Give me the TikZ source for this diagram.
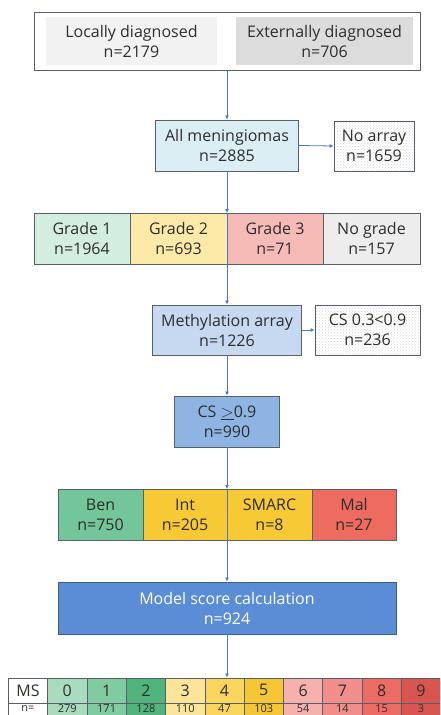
\documentclass[tikz,border=0pt]{standalone}
\usepackage{fontspec}
\setmainfont{Open Sans}
\usetikzlibrary{arrows.meta,patterns}
\definecolor{bordc}{HTML}{56606B}
\definecolor{txtc}{HTML}{2E2E2E}
\definecolor{arrc}{HTML}{4A78C2}
\definecolor{locf}{HTML}{F2F2F2}
\definecolor{extf}{HTML}{DCDCDC}
\definecolor{allf}{HTML}{DAEEF3}
\definecolor{gaf}{HTML}{D3EEDF}
\definecolor{gbf}{HTML}{FDEAA8}
\definecolor{gcf}{HTML}{F6BBB6}
\definecolor{gdf}{HTML}{EDEDED}
\definecolor{methf}{HTML}{C6D9F1}
\definecolor{csf}{HTML}{8DB4E2}
\definecolor{benf}{HTML}{72C69A}
\definecolor{intf}{HTML}{F6C935}
\definecolor{malf}{HTML}{EE6B5F}
\definecolor{modf}{HTML}{5A8DD6}
\definecolor{modb}{HTML}{3E5F8E}
\definecolor{m0}{HTML}{A9DCBF}
\definecolor{m1}{HTML}{80CCA0}
\definecolor{m2}{HTML}{50B47C}
\definecolor{m3}{HTML}{FDE49B}
\definecolor{m4}{HTML}{F9D55E}
\definecolor{m5}{HTML}{F4C633}
\definecolor{m6}{HTML}{F6B1AE}
\definecolor{m7}{HTML}{F18E89}
\definecolor{m8}{HTML}{EC6B63}
\definecolor{m9}{HTML}{D95650}
\tikzset{
  box/.style={draw=bordc, line width=0.9pt, text=txtc, inner sep=0pt, align=center,
    font=\fontsize{16}{20}\selectfont},
  plain/.style={inner sep=0pt, text=txtc, align=center, font=\fontsize{16}{20}\selectfont},
  dotbox/.style={box, pattern=crosshatch dots, pattern color=gray!30},
  arr/.style={draw=arrc, line width=0.8pt, -{Latex[length=4pt,width=4pt]}},
  cell/.style={draw=bordc, line width=0.7pt, inner sep=0pt, text=txtc, align=center},
}
\begin{document}
\begin{tikzpicture}[x=1pt,y=-1pt]
\useasboundingbox (0,0) rectangle (440,715);
\clip (0,0) rectangle (440,715);
% top
\node[box, fill=white, minimum width=386, minimum height=58] (top) at (227,41) {};
\node[plain, fill=locf, minimum width=171, minimum height=48] (loc) at (131.5,41) {Locally diagnosed\\n=2179};
\node[plain, fill=extf, minimum width=177, minimum height=48] (ext) at (324.5,41) {Externally diagnosed\\n=706};
% all meningiomas
\node[box, fill=allf, minimum width=143, minimum height=51] (all) at (227,145.5) {All meningiomas\\n=2885};
\node[dotbox, minimum width=80, minimum height=50] (noarr) at (374,146) {No array\\n=1659};
% grades
\node[box, fill=gaf, minimum width=96, minimum height=51] (g1) at (82,238.5) {Grade 1\\n=1964};
\node[box, fill=gbf, minimum width=97, minimum height=51] (g2) at (178.5,238.5) {Grade 2\\n=693};
\node[box, fill=gcf, minimum width=96, minimum height=51] (g3) at (275,238.5) {Grade 3\\n=71};
\node[box, fill=gdf, minimum width=97, minimum height=51] (g4) at (371.5,238.5) {No grade\\n=157};
\coordinate (gtop) at (227,213);
\coordinate (gbot) at (227,264);
% methylation
\node[box, fill=methf, minimum width=149, minimum height=50] (meth) at (227,330) {Methylation array\\n=1226};
\node[dotbox, minimum width=105, minimum height=50] (cs03) at (367.5,330) {CS 0.3<0.9\\n=236};
\node[box, fill=csf, minimum width=105, minimum height=51] (cs09) at (227,421.5) {CS $\underline{>}$0.9\\n=990};
% classes
\node[box, fill=benf, minimum width=85, minimum height=51] (ben) at (100.5,514.5) {Ben\\n=750};
\node[box, fill=intf, minimum width=84, minimum height=51] (int) at (185,514.5) {Int\\n=205};
\node[box, fill=intf, minimum width=85, minimum height=51] (smarc) at (269.5,514.5) {SMARC\\n=8};
\node[box, fill=malf, minimum width=84, minimum height=51] (mal) at (354,514.5) {Mal\\n=27};
\coordinate (ctop) at (227,489);
\coordinate (cbot) at (227,540);
% model
\node[box, fill=modf, draw=modb, text=white, minimum width=338, minimum height=52] (model) at (227,608) {Model score calculation\\n=924};
% table
\foreach \i/\lab/\n/\c in {0/MS/n=/white,1/0/279/m0,2/1/171/m1,3/2/128/m2,4/3/110/m3,5/4/47/m4,6/5/103/m5,7/6/54/m6,8/7/14/m7,9/8/15/m8,10/9/3/m9}{
  \node[cell, fill=\c, minimum width=39.3, minimum height=25, font=\fontsize{16}{16}\selectfont, anchor=north west] (h\i) at ({8+39.3*\i},677.5) {\lab};
  \node[cell, fill=\c, minimum width=39.3, minimum height=12, font=\fontsize{11}{11}\selectfont, anchor=north west] (r\i) at ({8+39.3*\i},702.5) {\n};
}
% arrows
\draw[arr] (top.south) -- (all.north);
\draw[arr] (all.east) -- (noarr.west);
\draw[arr] (all.south) -- (gtop);
\draw[arr] (gbot) -- (meth.north);
\draw[arr] (meth.east) -- (cs03.west);
\draw[arr] (meth.south) -- (cs09.north);
\draw[arr] (cs09.south) -- (ctop);
\draw[arr] (cbot) -- (model.north);
\draw[arr] (model.south) -- (model.south |- h5.north);
\draw[arrc, line width=0.8pt] (gtop) -- (gbot);
\draw[arrc, line width=0.8pt] (ctop) -- (cbot);
\end{tikzpicture}
\end{document}
